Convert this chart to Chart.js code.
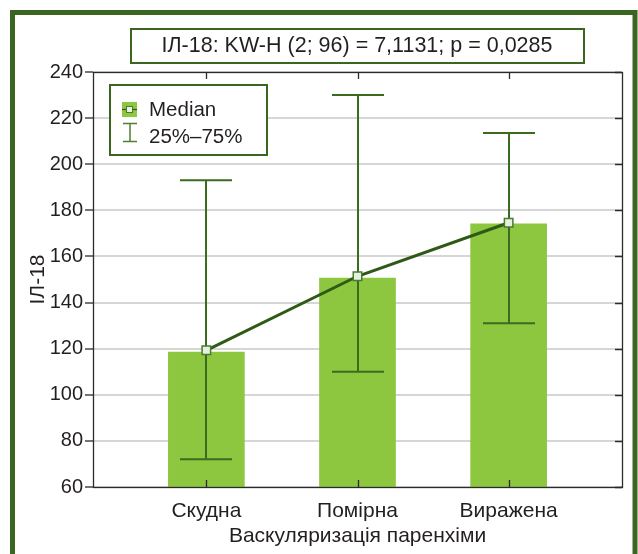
<!DOCTYPE html>
<html>
<head>
<meta charset="utf-8">
<script src="https://cdn.jsdelivr.net/npm/chart.js@4.4.1/dist/chart.umd.min.js"></script>
<style>
html,body{margin:0;padding:0;background:#fff;}
canvas{display:block;}
</style>
</head>
<body>
<canvas id="c" width="638" height="554"></canvas>
<script>
// ---- data ----
const categories = ['Скудна', 'Помірна', 'Виражена'];
const barValues = [118.5, 150.6, 174.2];
const medians = [119.3, 151.4, 174.6];
const q25 = [72, 110, 131];
const q75 = [193, 230, 213.5];
const yTicks = [60, 80, 100, 120, 140, 160, 180, 200, 220, 240];
const titleText = 'ІЛ-18: KW-H (2; 96) = 7,1131; p = 0,0285';
const xTitle = 'Васкуляризація паренхіми';
const yTitle = 'ІЛ-18';
const legendLabels = ['Median', '25%–75%'];

const FONT = '"Liberation Sans", Arial, Helvetica, sans-serif';
const TXT = '#231f20';
const DARK_GREEN = '#3a6620';
const LINE_GREEN = '#2f5a16';
const BAR_GREEN = '#8dc63f';

const bgPlugin = {
  id: 'bg',
  beforeDraw(chart) {
    const ctx = chart.ctx;
    ctx.save();
    ctx.fillStyle = '#fff';
    ctx.fillRect(0, 0, chart.width, chart.height);
    ctx.restore();
  }
};

const errPlugin = {
  id: 'errbars',
  beforeDatasetDraw(chart, args) {
    if (args.index !== 0) return;
    const ctx = chart.ctx;
    const xs = chart.scales.x, ys = chart.scales.y;
    ctx.save();
    ctx.strokeStyle = '#3b6b1e';
    ctx.lineWidth = 2;
    for (let i = 0; i < categories.length; i++) {
      const x = Math.round(xs.getPixelForValue(i));
      const yt = ys.getPixelForValue(q75[i]);
      const yb = ys.getPixelForValue(q25[i]);
      ctx.beginPath();
      ctx.moveTo(x, yt); ctx.lineTo(x, yb);
      ctx.moveTo(x - 26, yt); ctx.lineTo(x + 26, yt);
      ctx.moveTo(x - 26, yb); ctx.lineTo(x + 26, yb);
      ctx.stroke();
    }
    ctx.restore();
  }
};

const framePlugin = {
  id: 'frame',
  afterDraw(chart) {
    const ctx = chart.ctx;
    const a = chart.chartArea;
    const xs = chart.scales.x, ys = chart.scales.y;
    ctx.save();
    // plot box
    ctx.strokeStyle = '#2b2b2b';
    ctx.lineWidth = 1.3;
    ctx.strokeRect(Math.round(a.left) + 0.5, Math.round(a.top) + 0.5, Math.round(a.right - a.left), Math.round(a.bottom - a.top));
    // inward ticks on right
    ctx.beginPath();
    yTicks.forEach(v => {
      const y = Math.round(ys.getPixelForValue(v)) + 0.5;
      ctx.moveTo(a.right - 7, y); ctx.lineTo(a.right, y);
    });
    // inward ticks top and bottom at categories
    categories.forEach((c, i) => {
      const x = Math.round(xs.getPixelForValue(i)) + 0.5;
      ctx.moveTo(x, a.top); ctx.lineTo(x, a.top + 7);
      ctx.moveTo(x, a.bottom); ctx.lineTo(x, a.bottom - 7);
    });
    ctx.stroke();

    // title box
    ctx.strokeStyle = DARK_GREEN;
    ctx.lineWidth = 2;
    ctx.strokeRect(131, 29, 453, 34);
    ctx.fillStyle = TXT;
    ctx.font = '21.5px ' + FONT;
    ctx.textAlign = 'center';
    ctx.textBaseline = 'middle';
    ctx.fillText(titleText, 357, 46.5);

    // legend box
    ctx.fillStyle = '#fff';
    ctx.fillRect(110, 85, 157, 70);
    ctx.strokeStyle = DARK_GREEN;
    ctx.lineWidth = 2;
    ctx.strokeRect(110, 85, 157, 70);
    // median icon
    ctx.fillStyle = BAR_GREEN;
    ctx.fillRect(122, 102, 15, 15);
    ctx.strokeStyle = LINE_GREEN;
    ctx.lineWidth = 1.2;
    ctx.beginPath();
    ctx.moveTo(122, 109.5); ctx.lineTo(137, 109.5);
    ctx.stroke();
    ctx.fillStyle = '#e8f2e2';
    ctx.fillRect(126.5, 106.5, 6, 6);
    ctx.strokeStyle = '#4a7a30';
    ctx.lineWidth = 1;
    ctx.strokeRect(126.5, 106.5, 6, 6);
    // error icon
    ctx.strokeStyle = '#4f7f2f';
    ctx.lineWidth = 1.5;
    ctx.beginPath();
    ctx.moveTo(123, 123.5); ctx.lineTo(137, 123.5);
    ctx.moveTo(130, 123.5); ctx.lineTo(130, 141.5);
    ctx.moveTo(123, 141.5); ctx.lineTo(137, 141.5);
    ctx.stroke();
    ctx.fillStyle = TXT;
    ctx.font = '20.5px ' + FONT;
    ctx.textAlign = 'left';
    ctx.textBaseline = 'middle';
    ctx.fillText(legendLabels[0], 149, 110);
    ctx.fillText(legendLabels[1], 149, 137.5);

    // outer green frame
    ctx.strokeStyle = DARK_GREEN;
    ctx.lineWidth = 5;
    ctx.strokeRect(12.5, 12.5, 622.5, 560);
    ctx.restore();
  }
};

new Chart(document.getElementById('c'), {
  data: {
    datasets: [
      {
        type: 'line',
        label: legendLabels[0],
        data: categories.map((c, i) => ({ x: i, y: medians[i] })),
        borderColor: LINE_GREEN,
        borderWidth: 3,
        pointStyle: 'rect',
        pointRadius: 6,
        pointBackgroundColor: '#e6f0e0',
        pointBorderColor: '#4a7a30',
        pointBorderWidth: 1.5,
        tension: 0
      },
      {
        type: 'bar',
        label: 'bars',
        data: categories.map((c, i) => ({ x: i, y: barValues[i] })),
        backgroundColor: BAR_GREEN,
        borderWidth: 0,
        barThickness: 76
      }
    ]
  },
  options: {
    responsive: false,
    animation: false,
    layout: { padding: { left: 0, top: 72, right: 16, bottom: 0 } },
    plugins: { legend: { display: false }, tooltip: { enabled: false } },
    scales: {
      x: {
        type: 'linear',
        offset: false,
        min: -0.75,
        max: 2.75,
        afterBuildTicks(scale) { scale.ticks = categories.map((c, i) => ({ value: i })); },
        afterFit(scale) { scale.height = 67; },
        ticks: {
          autoSkip: false,
          maxRotation: 0,
          padding: 12,
          color: TXT,
          font: { family: FONT, size: 21 },
          callback: (v) => categories[v]
        },
        grid: { display: false, drawTicks: false, offset: false },
        border: { display: false },
        title: {
          display: true,
          text: xTitle,
          color: TXT,
          font: { family: FONT, size: 21 },
          padding: { top: 0, bottom: 5 }
        }
      },
      y: {
        type: 'linear',
        min: 60,
        max: 240,
        afterBuildTicks(scale) { scale.ticks = yTicks.map(v => ({ value: v })); },
        afterFit(scale) { scale.width = 93; },
        ticks: {
          padding: 2,
          color: TXT,
          font: { family: FONT, size: 20 }
        },
        grid: {
          color: '#d6d6d6',
          lineWidth: 2,
          tickColor: '#2b2b2b',
          tickLength: 8,
          tickWidth: 1.3
        },
        border: { display: false },
        title: {
          display: true,
          text: yTitle,
          color: TXT,
          font: { family: FONT, size: 21 },
          padding: { top: 26, bottom: 0 }
        }
      }
    }
  },
  plugins: [bgPlugin, errPlugin, framePlugin]
});
</script>
</body>
</html>
